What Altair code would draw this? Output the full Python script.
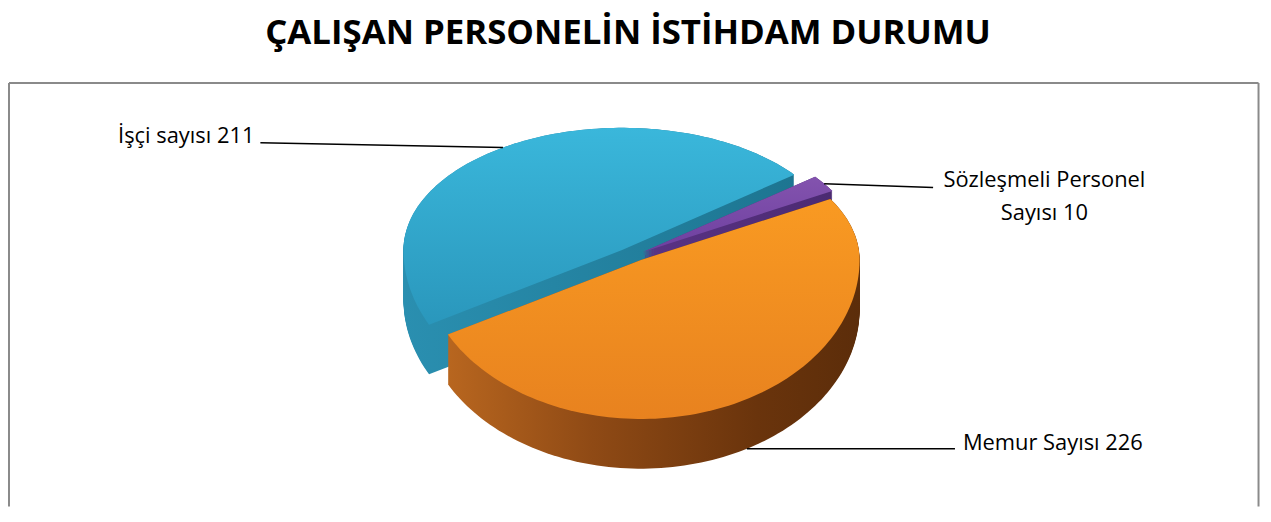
import altair as alt
import pandas as pd

# ---------------- data ----------------
categories = ["Memur Sayısı", "İşçi sayısı", "Sözleşmeli Personel Sayısı"]
values = [226, 211, 10]
labels = ["Memur Sayısı 226", "İşçi sayısı 211", "Sözleşmeli Personel\nSayısı 10"]
title_text = "ÇALIŞAN PERSONELİN İSTİHDAM DURUMU"

df = pd.DataFrame({"cat": categories, "value": values, "label": labels,
                   "ord": list(range(len(categories)))})

# ---------------- layout / style ----------------
W, H = 1263, 500            # svg size (page coords = svg + 8)
CX, CY = 637, 255           # pie centre (page coords)
RX, RYB, RYF = 220, 123, 160  # ellipse radii (x, back y, front y)
DEPTH = 50                  # 3D thickness
START_DEG = 60
N = 120
FONT = "Open Sans"

explode = {"Memur Sayısı": (8, 5), "İşçi sayısı": (-11, -5),
           "Sözleşmeli Personel Sayısı": (10, -3)}
label_end = {"Memur Sayısı": (961, 450), "İşçi sayısı": (262, 142),
             "Sözleşmeli Personel Sayısı": (939, 187)}
label_pos = {"Memur Sayısı": (969, 451, "left"), "İşçi sayısı": (256, 142, "right"),
             "Sözleşmeli Personel Sayısı": (1051, 187, "center")}

def grad(stops, horizontal):
    return alt.LinearGradient(
        gradient="linear",
        stops=[alt.GradientStop(color=c, offset=o) for o, c in stops],
        x1=0, y1=0, x2=1 if horizontal else 0, y2=0 if horizontal else 1)

top_fill = {
    "İşçi sayısı": grad([(0, "#3AB7DB"), (1, "#2A97BC")], False),
    "Sözleşmeli Personel Sayısı": grad([(0, "#8353AE"), (1, "#6E40A0")], False),
    "Memur Sayısı": grad([(0, "#F99A22"), (1, "#E8821F")], False),
}
side_fill = {
    "İşçi sayısı": grad([(0, "#2A8FB0"), (1, "#1D7591")], True),
    "Sözleşmeli Personel Sayısı": grad([(0, "#5A3385"), (1, "#4B2A72")], True),
    "Memur Sayısı": grad([(0, "#B8661F"), (0.35, "#8F4A15"), (0.75, "#6A340C"), (1, "#5C2D0A")], True),
}

def by_cat(d, i):
    expr = "0"
    for c, v in d.items():
        expr = f"(datum.cat === '{c}' ? {v[i]} : {expr})"
    return expr

xs = alt.Scale(domain=[8, 8 + W], nice=False, zero=False)
ys = alt.Scale(domain=[8, 8 + H], reverse=True, nice=False, zero=False)

def base():
    return (alt.Chart(df)
            .transform_joinaggregate(total="sum(value)")
            .transform_window(cum="sum(value)", sort=[alt.SortField("ord", order="ascending")])
            .transform_calculate(
                a0=f"{START_DEG}*PI/180 + 2*PI*(datum.cum - datum.value)/datum.total",
                a1=f"{START_DEG}*PI/180 + 2*PI*datum.cum/datum.total",
                cx=f"{CX} + {by_cat(explode, 0)}",
                cy=f"{CY} + {by_cat(explode, 1)}"))

def poly(cat):
    return (base().transform_filter(alt.datum.cat == cat)
            .transform_calculate(k=f"sequence(0, {N + 1})")
            .transform_flatten(["k"])
            .transform_calculate(
                ang=f"datum.a0 + (datum.a1 - datum.a0) * max(datum.k - 1, 0) / {N - 1}",
                px=f"datum.k == 0 ? datum.cx : datum.cx + {RX}*sin(datum.ang)",
                py=f"datum.k == 0 ? datum.cy : datum.cy - (cos(datum.ang) > 0 ? {RYB} : {RYF})*cos(datum.ang)"))

draw_order = ["İşçi sayısı", "Sözleşmeli Personel Sayısı", "Memur Sayısı"]

sides = []
for c in draw_order:
    sides.append(
        poly(c)
        .transform_calculate(d=f"sequence(0, {DEPTH + 1})")
        .transform_flatten(["d"])
        .transform_calculate(pys="datum.py + datum.d")
        .mark_line(filled=True, fill=side_fill[c], interpolate="linear")
        .encode(x=alt.X("px:Q", scale=xs, axis=None),
                y=alt.Y("pys:Q", scale=ys, axis=None),
                detail="d:Q", order="k:Q"))

tops = []
for c in draw_order:
    tops.append(
        poly(c)
        .mark_line(filled=True, fill=top_fill[c], interpolate="linear")
        .encode(x=alt.X("px:Q", scale=xs, axis=None),
                y=alt.Y("py:Q", scale=ys, axis=None),
                order="k:Q"))

leaders = (base()
           .transform_calculate(
               am="(datum.a0 + datum.a1)/2",
               ax=f"datum.cx + {RX}*sin(datum.am)",
               ay=f"datum.cy - (cos(datum.am) > 0 ? {RYB} : {RYF})*cos(datum.am) + (cos(datum.am) < 0 ? {DEPTH} : 0)",
               lx=by_cat(label_end, 0),
               ly=by_cat(label_end, 1))
           .mark_rule(color="black", strokeWidth=1.5)
           .encode(x=alt.X("ax:Q", scale=xs, axis=None), y=alt.Y("ay:Q", scale=ys, axis=None),
                   x2="lx:Q", y2="ly:Q"))

texts = []
for c, (tx, ty, al) in label_pos.items():
    texts.append(
        alt.Chart(df).transform_filter(alt.datum.cat == c)
        .transform_calculate(tx=str(tx), ty=str(ty))
        .mark_text(align=al, baseline="alphabetic", font=FONT, fontSize=22,
                   color="black", lineBreak="\n", lineHeight=33)
        .encode(x=alt.X("tx:Q", scale=xs, axis=None), y=alt.Y("ty:Q", scale=ys, axis=None),
                text="label:N"))

one = alt.Data(values=[{"t": title_text}])
title = (alt.Chart(one).mark_text(align="center", baseline="alphabetic", font=FONT,
                                   fontSize=35, fontWeight="bold", color="black")
         .encode(x=alt.value(632 - 8), y=alt.value(43 - 8), text="t:N"))

BORDER = "#8a8a8a"
b_top = alt.Chart(one).mark_rule(color=BORDER, strokeWidth=2).encode(
    x=alt.value(1), x2=alt.value(1266.5 - 8), y=alt.value(82 - 8))
b_left = alt.Chart(one).mark_rule(color=BORDER, strokeWidth=2).encode(
    x=alt.value(1), y=alt.value(82 - 8), y2=alt.value(H))
b_right = alt.Chart(one).mark_rule(color=BORDER, strokeWidth=2).encode(
    x=alt.value(1266.5 - 8), y=alt.value(82 - 8), y2=alt.value(H))

chart = alt.layer(b_top, b_left, b_right, *sides, *tops, leaders, *texts, title).properties(
    width=W, height=H, padding=0, autosize=alt.AutoSizeParams(type="none"),
    background="white"
).configure_view(strokeWidth=0)

chart.save("out.html", embed_options={"renderer": "svg", "actions": False})
